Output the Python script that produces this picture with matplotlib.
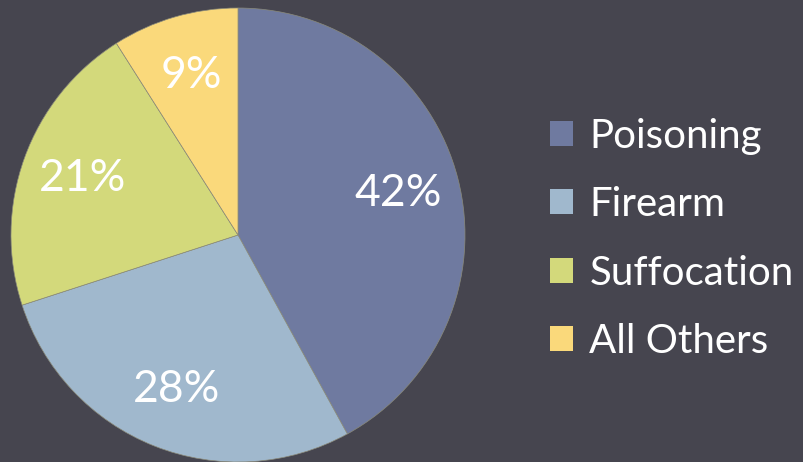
import matplotlib
matplotlib.use("Agg")
import matplotlib.pyplot as plt
from matplotlib.patches import Patch

labels = ["Poisoning", "Firearm", "Suffocation", "All Others"]
values = [42, 28, 21, 9]
colors = ["#6f7aa0", "#a0b8cd", "#d3d97b", "#fad97b"]
bg = "#46454f"

plt.rcParams["font.family"] = ["Lato", "DejaVu Sans"]

fig = plt.figure(figsize=(8.04, 4.62), dpi=100, facecolor=bg)
# pie centre ~(238,235) px, radius ~227 px
ax = fig.add_axes([11 / 804, 0 / 462, 454 / 804, 454 / 462])
ax.set_facecolor(bg)

wedges, texts, autotexts = ax.pie(
    values, colors=colors, startangle=90, counterclock=False,
    autopct="%d%%", pctdistance=0.73,
    wedgeprops={"linewidth": 0.5, "edgecolor": "#8a8a7a"},
    textprops={"color": "white", "fontsize": 32},
)
ax.set_xlim(-1, 1)
ax.set_ylim(-1, 1)
ax.set_aspect("equal")
ax.axis("off")

handles = [Patch(facecolor=c, edgecolor="none") for c in colors]
leg = fig.legend(
    handles, labels, loc="center left", bbox_to_anchor=(550 / 804, 0.483),
    frameon=False, labelcolor="white", prop={"size": 29},
    handlelength=0.58, handleheight=0.58, handletextpad=0.4,
    labelspacing=0.78, borderpad=0, borderaxespad=0,
)

fig.savefig("out.png", dpi=100, facecolor=bg)
